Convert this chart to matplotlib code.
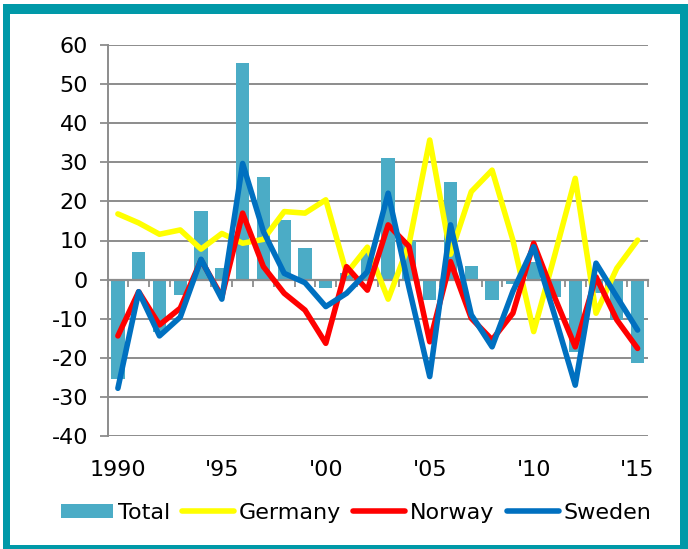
"""Annual change by country, bars for the total and lines per country."""

import matplotlib

matplotlib.use("Agg")
import matplotlib.pyplot as plt
from matplotlib.lines import Line2D
from matplotlib.patches import Patch, Rectangle


YEARS = list(range(1990, 2016))
TICK_YEARS = [1990, 1995, 2000, 2005, 2010, 2015]
TICK_LABELS = ["1990", "'95", "'00", "'05", "'10", "'15"]

TOTAL = [-25.5, 7.0, -13.3, -3.9, 17.5, 2.9, 55.5, 26.3, 15.2, 8.1, -2.2, 1.8, 7.5,
         31.0, 10.0, -5.2, 25.0, 3.5, -5.2, -1.1, 4.5, -4.4, -18.4, -3.4, -10.3, -21.4]
GERMANY = [16.8, 14.5, 11.6, 12.7, 7.8, 11.8, 9.3, 10.3, 17.4, 17.0, 20.4, 1.6, 8.3,
           -5.0, 9.0, 35.7, 6.5, 22.5, 28.0, 10.1, -13.3, 6.0, 25.9, -8.6, 2.9, 10.1]
NORWAY = [-14.4, -3.1, -11.6, -7.3, 5.0, -4.4, 17.0, 3.3, -3.5, -7.8, -16.3, 3.3, -2.7,
          14.0, 8.5, -15.9, 4.6, -9.9, -15.4, -8.6, 9.3, -4.4, -17.2, 0.7, -10.3, -17.6]
SWEDEN = [-27.8, -3.1, -14.4, -9.6, 5.2, -5.0, 29.7, 12.3, 1.6, -0.8, -6.9, -3.5, 2.0,
          22.1, -2.0, -24.8, 14.0, -9.0, -17.2, -3.0, 8.4, -9.0, -27.0, 4.2, -4.4, -12.9]

BAR_COLOR = "#4bacc6"
LINE_COLORS = {"Germany": "#ffff00", "Norway": "#ff0000", "Sweden": "#0070c0"}
GRID_COLOR = "#8c8c8c"
FRAME_COLOR = "#0099a8"
FS = 16

W, H = 688, 549

plt.rcParams["font.family"] = ["DejaVu Sans"]
plt.rcParams["axes.unicode_minus"] = False

fig = plt.figure(figsize=(W / 100, H / 100), dpi=100)
ax = fig.add_axes([107.5 / W, 1 - 436 / H, (648 - 107.5) / W, (436 - 45) / H])

x = list(range(len(YEARS)))
ax.bar(x, TOTAL, width=0.64, color=BAR_COLOR, zorder=1)
series = {"Germany": GERMANY, "Norway": NORWAY, "Sweden": SWEDEN}
for name, vals in series.items():
    ax.plot(x, vals, color=LINE_COLORS[name], lw=4.0, solid_capstyle="round",
            solid_joinstyle="round", zorder=3)

ax.set_ylim(-40, 60)
ax.set_xlim(-0.5, len(YEARS) - 0.5)
ax.set_yticks(range(-40, 61, 10))
ax.tick_params(axis="y", labelsize=FS, length=6, width=1.3, color=GRID_COLOR, pad=8)
ax.set_axisbelow(True)
ax.yaxis.grid(True, color=GRID_COLOR, lw=1.4)

# category axis crosses at zero, boundary ticks pointing down
ax.spines["bottom"].set_position(("data", 0))
ax.spines["bottom"].set_color(GRID_COLOR)
ax.spines["bottom"].set_linewidth(1.6)
ax.spines["bottom"].set_zorder(2.5)
ax.set_xticks([i - 0.5 for i in range(len(YEARS) + 1)])
ax.tick_params(axis="x", length=5, width=1.3, color=GRID_COLOR, labelbottom=False)
ax.spines["left"].set_color(GRID_COLOR)
ax.spines["left"].set_linewidth(1.4)
for side in ("top", "right"):
    ax.spines[side].set_visible(False)

sec = ax.secondary_xaxis(0.0)
sec.set_xticks([YEARS.index(y) for y in TICK_YEARS], TICK_LABELS)
sec.tick_params(length=0, labelsize=FS, pad=17)
sec.spines["bottom"].set_visible(False)

handles = [Patch(facecolor=BAR_COLOR, label="Total")]
handles += [Line2D([], [], color=LINE_COLORS[n], lw=4.0, solid_capstyle="round", label=n)
            for n in series]
fig.legend(handles=handles, loc="center", bbox_to_anchor=(0.5175, 0.0656), ncol=4,
           frameon=False, fontsize=FS, handlelength=2.35, handleheight=0.62,
           handletextpad=0.2, columnspacing=0.55)

# teal frame round the chart
for (x0, y0, x1, y1) in [(3, 4, W, 14), (3, 4, 10, H), (3, 545, W, H), (680, 4, W, H)]:
    fig.patches.append(Rectangle((x0 / W, 1 - y1 / H), (x1 - x0) / W, (y1 - y0) / H,
                                 transform=fig.transFigure, color=FRAME_COLOR, lw=0))

fig.savefig("out.png", dpi=100)
